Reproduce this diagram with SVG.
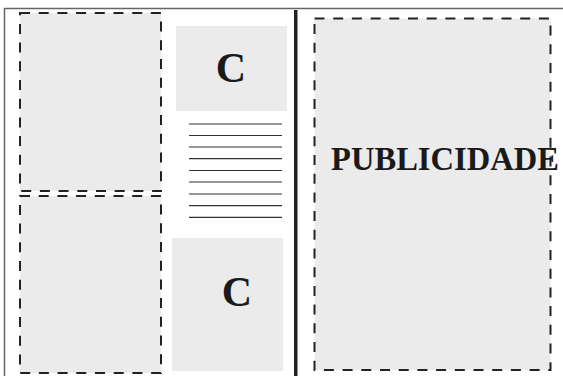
<svg xmlns="http://www.w3.org/2000/svg" width="563" height="376" viewBox="0 0 563 376">
<style>
.dash{fill:#ebebeb;stroke:#222;stroke-width:2;stroke-dasharray:10 8.7}
.box{fill:#ebebeb}
.t{font-family:"Liberation Serif","Times New Roman",serif;font-weight:bold;fill:#1a1a1a}
.ln{stroke:#333;stroke-width:1.2}
</style>
<rect width="563" height="376" fill="#fff"/>
<g id="frame">
<path d="M4.5,380 V8.5 H563" fill="none" stroke="#666" stroke-width="1.5"/>
</g>
<g id="left-top"><rect class="dash" x="20" y="13" width="141" height="178"/></g>
<g id="left-bottom"><rect class="dash" x="20" y="196" width="141" height="177"/></g>
<g id="c-top">
<rect class="box" x="176" y="26" width="111" height="85"/>
<text class="t" x="231" y="82" font-size="42" text-anchor="middle">C</text>
</g>
<g id="text-lines">
<line class="ln" x1="189" y1="124" x2="282" y2="124"/>
<line class="ln" x1="189" y1="135.5" x2="282" y2="135.5"/>
<line class="ln" x1="189" y1="147" x2="282" y2="147"/>
<line class="ln" x1="189" y1="158.7" x2="282" y2="158.7"/>
<line class="ln" x1="189" y1="170.5" x2="282" y2="170.5"/>
<line class="ln" x1="189" y1="182" x2="282" y2="182"/>
<line class="ln" x1="189" y1="194" x2="282" y2="194"/>
<line class="ln" x1="189" y1="205.6" x2="282" y2="205.6"/>
<line class="ln" x1="189" y1="217.3" x2="282" y2="217.3"/>
</g>
<g id="c-bottom">
<rect class="box" x="172" y="238" width="111" height="133"/>
<text class="t" x="237" y="306" font-size="42" text-anchor="middle">C</text>
</g>
<g id="divider"><rect x="294" y="10" width="3.5" height="366" fill="#222"/></g>
<g id="publicidade">
<rect class="box" x="314.5" y="18.5" width="236" height="351.5"/>
<text class="t" x="331" y="170" font-size="33" textLength="228" lengthAdjust="spacingAndGlyphs">PUBLICIDADE</text>
<rect class="dash" x="314.5" y="18.5" width="236" height="351.5" fill="none" style="fill:none"/>
</g>
</svg>
